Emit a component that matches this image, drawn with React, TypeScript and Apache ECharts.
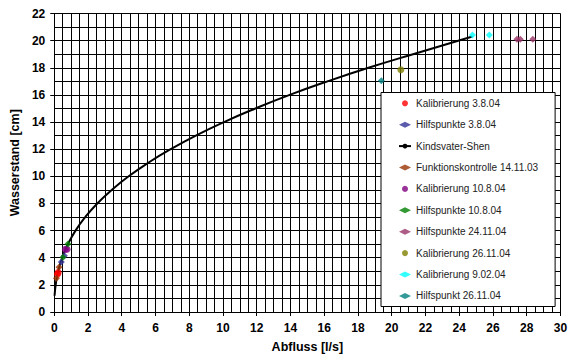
import React, { useEffect, useRef } from "react";
import * as echarts from "echarts";

const xTicks = [0, 2, 4, 6, 8, 10, 12, 14, 16, 18, 20, 22, 24, 26, 28, 30];
const yTicks = [0, 2, 4, 6, 8, 10, 12, 14, 16, 18, 20, 22];

const kalib_3_8_04 = [[0.19, 2.78], [0.23, 2.9]];
const hilf_3_8_04 = [[0.42, 3.68], [0.6, 4.15]];
const kindsvaterShen = [
  [0.02, 1.2], [0.085, 2], [0.23, 3], [0.47, 4], [0.81, 5], [1.26, 6], [1.84, 7],
  [2.55, 8], [3.41, 9], [4.41, 10], [5.57, 11], [6.9, 12], [8.39, 13], [10.06, 14],
  [11.92, 15], [13.95, 16], [16.19, 17], [18.62, 18], [21.26, 19], [24.78, 20.3],
];
const funk_14_11_03 = [[0.13, 2.48], [0.28, 3.29]];
const kalib_10_8_04 = [[0.66, 4.62], [0.76, 4.62]];
const hilf_10_8_04 = [[0.52, 4.03], [0.81, 5.01]];
const hilf_24_11_04 = [[27.42, 20.1], [27.62, 20.1], [28.36, 20.1]];
const kalib_26_11_04 = [[20.54, 17.86]];
const kalib_9_02_04 = [[24.78, 20.41], [25.78, 20.41]];
const hilf_26_11_04 = [[19.38, 17.05]];

const FONT = "Arial, 'Liberation Sans', sans-serif";

export default function App() {
  const ref = useRef<HTMLDivElement>(null);
  useEffect(() => {
    if (!ref.current) return;
    const chart = echarts.init(ref.current, null, { renderer: "svg" });
    const scatter = (name: string, data: number[][], color: string, symbol: string, size: number) => ({
      name,
      type: "scatter",
      data,
      symbol,
      symbolSize: size,
      itemStyle: { color },
      z: 3,
    });
    chart.setOption({
      animation: false,
      backgroundColor: "#fff",
      textStyle: { fontFamily: FONT },
      grid: { left: 50.5, right: 19.5, top: 13.5, bottom: 49, containLabel: false },
      xAxis: {
        type: "value",
        min: 0,
        max: 30,
        interval: 2,
        name: "Abfluss [l/s]",
        nameLocation: "middle",
        nameGap: 28,
        nameTextStyle: { fontFamily: FONT, fontWeight: "bold", fontSize: 12.5, color: "#000" },
        axisLine: { show: true, lineStyle: { color: "#000", width: 1 } },
        axisTick: { show: true, length: 4, lineStyle: { color: "#000" } },
        axisLabel: {
          margin: 10,
          fontFamily: FONT,
          fontWeight: "bold",
          fontSize: 12,
          color: "#000",
          formatter: (v: number) => (xTicks.includes(v) ? String(v) : ""),
        },
        splitLine: { show: true, lineStyle: { color: "#000", width: 1 } },
        minorTick: { show: false, splitNumber: 4 },
        minorSplitLine: { show: true, lineStyle: { color: "#000", width: 1 } },
      },
      yAxis: {
        type: "value",
        min: 0,
        max: 22,
        interval: 2,
        name: "Wasserstand [cm]",
        nameLocation: "middle",
        nameRotate: 90,
        nameGap: 29,
        nameTextStyle: { fontFamily: FONT, fontWeight: "bold", fontSize: 12.5, color: "#000" },
        axisLine: { show: true, lineStyle: { color: "#000", width: 1 } },
        axisTick: { show: true, length: 4, lineStyle: { color: "#000" } },
        axisLabel: {
          margin: 9,
          fontFamily: FONT,
          fontWeight: "bold",
          fontSize: 12,
          color: "#000",
          formatter: (v: number) => (yTicks.includes(v) ? String(v) : ""),
        },
        splitLine: { show: true, lineStyle: { color: "#000", width: 1 } },
        minorTick: { show: false, splitNumber: 2 },
        minorSplitLine: { show: true, lineStyle: { color: "#000", width: 1 } },
      },
      legend: {
        orient: "vertical",
        left: 381,
        top: 92.5,
        padding: [3.8, 17, 3.6, 17],
        itemWidth: 12,
        itemHeight: 6,
        itemGap: 7.4,
        backgroundColor: "#fff",
        borderColor: "#000",
        borderWidth: 1,
        borderRadius: 0,
        textStyle: { fontFamily: FONT, fontSize: 10, color: "#222", lineHeight: 14 },
        data: [
          "Kalibrierung 3.8.04",
          "Hilfspunkte 3.8.04",
          "Kindsvater-Shen",
          "Funktionskontrolle 14.11.03",
          "Kalibrierung 10.8.04",
          "Hilfspunkte 10.8.04",
          "Hilfspunkte 24.11.04",
          "Kalibrierung 26.11.04",
          "Kalibrierung 9.02.04",
          "Hilfspunkt 26.11.04",
        ],
      },
      series: [
        scatter("Kalibrierung 3.8.04", kalib_3_8_04, "#FF0000", "circle", 7),
        scatter("Hilfspunkte 3.8.04", hilf_3_8_04, "#333399", "diamond", 7),
        {
          name: "Kindsvater-Shen",
          type: "line",
          data: kindsvaterShen,
          symbol: "none",
          smooth: true,
          lineStyle: { color: "#000", width: 2 },
          itemStyle: { color: "#000" },
          z: 2,
        },
        scatter("Funktionskontrolle 14.11.03", funk_14_11_03, "#993300", "diamond", 7),
        scatter("Kalibrierung 10.8.04", kalib_10_8_04, "#800080", "circle", 7),
        scatter("Hilfspunkte 10.8.04", hilf_10_8_04, "#008000", "diamond", 7),
        scatter("Hilfspunkte 24.11.04", hilf_24_11_04, "#993366", "diamond", 7),
        scatter("Kalibrierung 26.11.04", kalib_26_11_04, "#808000", "circle", 7),
        scatter("Kalibrierung 9.02.04", kalib_9_02_04, "#00FFFF", "diamond", 7),
        scatter("Hilfspunkt 26.11.04", hilf_26_11_04, "#008080", "diamond", 7),
      ],
    });
    return () => chart.dispose();
  }, []);
  return (
    <div
      ref={ref}
      style={{ position: "fixed", left: 0, top: 0, width: 580, height: 361, background: "#fff" }}
    />
  );
}
